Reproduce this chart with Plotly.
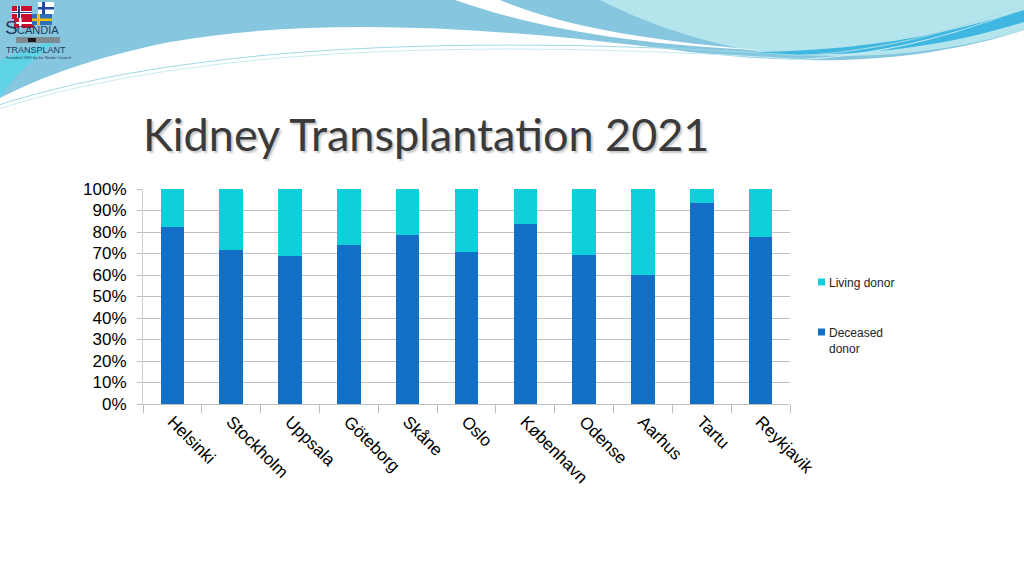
"""Kidney transplantation 2021: share of deceased vs living donor grafts per centre."""

import plotly.graph_objects as go

W, H = 1024, 576

# Data (percent of transplants).
centres = ["Helsinki", "Stockholm", "Uppsala", "Göteborg", "Skåne", "Oslo",
           "København", "Odense", "Aarhus", "Tartu", "Reykjavik"]
deceased_pct = [82.5, 71.8, 69.0, 74.0, 78.8, 70.7, 83.8, 69.5, 60.0, 93.3, 77.5]
living_pct = [round(100 - v, 1) for v in deceased_pct]
y_ticks = list(range(0, 101, 10))

DECEASED_COLOR = "#126fc6"
LIVING_COLOR = "#0ecfda"

# Plot area in pixels.
PL, PR, PT, PB = 143, 790, 189, 404


def px(x, y):
    """Convert page pixels to paper coordinates."""
    return (x - PL) / (PR - PL), (PB - y) / (PB - PT)


def path(points):
    """Build a closed SVG path in paper coordinates from (cmd, x, y, ...) tuples."""
    parts = []
    for cmd, *coords in points:
        xy = []
        for i in range(0, len(coords), 2):
            a, b = px(coords[i], coords[i + 1])
            xy.append(f"{a:.4f},{b:.4f}")
        parts.append(cmd + " ".join(xy))
    return " ".join(parts) + " Z"


def rect(x0, y0, x1, y1, color):
    """Paper-referenced rectangle given in page pixels."""
    a0, b0 = px(x0, y0)
    a1, b1 = px(x1, y1)
    return dict(type="rect", xref="paper", yref="paper", x0=a0, y0=b0,
                x1=a1, y1=b1, fillcolor=color, line=dict(width=0))


fig = go.Figure()

fig.add_trace(go.Bar(
    x=centres, y=deceased_pct, name="Deceased<br>donor",
    marker=dict(color=DECEASED_COLOR, line=dict(width=0)),
    showlegend=False,
))
fig.add_trace(go.Bar(
    x=centres, y=living_pct, name="Living donor",
    marker=dict(color=LIVING_COLOR, line=dict(width=0)),
    showlegend=False,
))

# Decorative header swooshes drawn as paper-referenced shapes.
header = [
    (path([("M", 0, 0), ("L", 1024, 0), ("L", 1024, 30),
           ("C", 900, 70, 780, 62, 690, 52),
           ("C", 520, 30, 330, 14, 170, 42),
           ("C", 90, 58, 40, 78, 0, 98)]), "#86c6df"),
    (path([("M", 600, 0), ("L", 1024, 0), ("L", 1024, 30),
           ("C", 930, 58, 840, 60, 760, 52),
           ("C", 690, 40, 640, 20, 600, 0)]), "#b4e4ec"),
    (path([("M", 455, 0), ("L", 500, 0),
           ("C", 560, 25, 640, 40, 760, 50),
           ("C", 640, 45, 540, 30, 455, 0)]), "#ffffff"),
    (path([("M", 0, 60), ("L", 60, 38), ("C", 30, 62, 10, 80, 0, 98)]), "#5fd3e6"),
    (path([("M", 760, 52), ("C", 880, 50, 960, 30, 1024, 10), ("L", 1024, 22),
           ("C", 950, 45, 870, 58, 760, 54)]), "#3fb7e0"),
]
shapes = [
    dict(type="path", xref="paper", yref="paper", path=p, fillcolor=c,
         line=dict(width=0), layer="below")
    for p, c in header
]
# Thin light lines following the wave.
for dy, col in [(0, "#9fd8e6"), (4, "#c9ecf3")]:
    shapes.append(dict(
        type="path", xref="paper", yref="paper",
        path=path([("M", 0, 104 + dy), ("C", 200, 40 + dy, 500, 35 + dy, 800, 55 + dy),
                   ("C", 900, 50 + dy, 980, 20 + dy, 1024, 5 + dy),
                   ("C", 980, 21 + dy, 900, 51 + dy, 800, 56 + dy),
                   ("C", 500, 36 + dy, 200, 41 + dy, 0, 105 + dy)]),
        fillcolor=col, line=dict(width=0), layer="below"))

# Logo: four small Nordic flags and a grey bar.
shapes += [
    # Norway
    rect(12, 6, 32, 19, "#c8102e"), rect(17, 6, 21, 19, "#ffffff"),
    rect(12, 11, 32, 14, "#ffffff"), rect(18, 6, 20, 19, "#1f3f8f"),
    rect(12, 12, 32, 13, "#1f3f8f"),
    # Denmark
    rect(14, 18, 34, 28, "#c8102e"), rect(19, 18, 21.5, 28, "#ffffff"),
    rect(14, 22, 34, 24, "#ffffff"),
    # Finland
    rect(38, 2, 54, 14, "#ffffff"), rect(42, 2, 45, 14, "#1f4aa8"),
    rect(38, 7, 54, 9.5, "#1f4aa8"),
    # Sweden
    rect(32, 14, 52, 25, "#2f6fb8"), rect(37, 14, 40, 25, "#f2c400"),
    rect(32, 18.5, 52, 21, "#f2c400"),
    # Grey bar under the name
    rect(16, 37, 60, 43, "#7d8a90"), rect(28, 38, 36, 42, "#1c1c1c"),
]

# Legend drawn by hand to match the slide's placement.
legend_items = [("Living donor", LIVING_COLOR, 282), ("Deceased<br>donor", DECEASED_COLOR, 332)]
annotations = []
for label, color, yc in legend_items:
    shapes.append(rect(818, yc - 3.5, 825, yc + 3.5, color))
    tx, ty = px(827, yc - 8)
    annotations.append(dict(
        text=label, x=tx, y=ty, xref="paper", yref="paper", xanchor="left",
        yanchor="top", align="left", showarrow=False,
        font=dict(size=12, color="#222222"),
    ))

annotations += [
    dict(text="Kidney Transplantation 2021", x=px(141, 0)[0], y=px(0, 134)[1],
         xref="paper", yref="paper", xanchor="left", yanchor="middle",
         showarrow=False,
         font=dict(family="Lato, Open Sans, sans-serif", size=45, color="#3a3a3a",
                   shadow="2px 2px 2px #c8c8c8")),
    dict(text="S", x=px(3, 0)[0], y=px(0, 28)[1], xref="paper", yref="paper",
         xanchor="left", yanchor="middle", showarrow=False,
         font=dict(family="Liberation Sans", size=19, color="#1d3a5c")),
    dict(text="CANDIA", x=px(15, 0)[0], y=px(0, 30)[1], xref="paper", yref="paper",
         xanchor="left", yanchor="middle", showarrow=False,
         font=dict(family="Liberation Sans", size=11, color="#1d3a5c")),
    dict(text="TRANSPLANT", x=px(4, 0)[0], y=px(0, 50)[1], xref="paper", yref="paper",
         xanchor="left", yanchor="middle", showarrow=False,
         font=dict(family="Liberation Sans", size=9, color="#1d3a5c")),
    dict(text="Founded 1969 by the Nordic Council", x=px(4, 0)[0], y=px(0, 57)[1],
         xref="paper", yref="paper", xanchor="left", yanchor="middle",
         showarrow=False, font=dict(family="Liberation Sans", size=4, color="#1d3a5c")),
]

fig.update_layout(
    width=W, height=H,
    margin=dict(l=PL, r=W - PR, t=PT, b=H - PB),
    paper_bgcolor="white", plot_bgcolor="white",
    barmode="stack", bargap=0.6,
    font=dict(family="Liberation Sans, Arial, sans-serif", color="#000000"),
    xaxis=dict(
        tickangle=45, tickfont=dict(size=17), ticks="outside", tickson="boundaries",
        ticklen=8, tickcolor="#bfbfbf", showline=True, linecolor="#bfbfbf",
        showgrid=False, automargin=False,
    ),
    yaxis=dict(
        range=[0, 100], tickvals=y_ticks, ticktext=[f"{v}%" for v in y_ticks],
        tickfont=dict(size=17), ticks="outside", ticklen=5, tickcolor="#bfbfbf",
        ticklabelstandoff=7,
        showgrid=True, gridcolor="#bfbfbf", gridwidth=1, showline=True,
        linecolor="#d0d0d0", zeroline=False, automargin=False,
    ),
    showlegend=False,
    shapes=shapes,
    annotations=annotations,
)

fig.write_html("out.html", config={"displayModeBar": False},
               post_script="document.body.style.margin = '0';")
